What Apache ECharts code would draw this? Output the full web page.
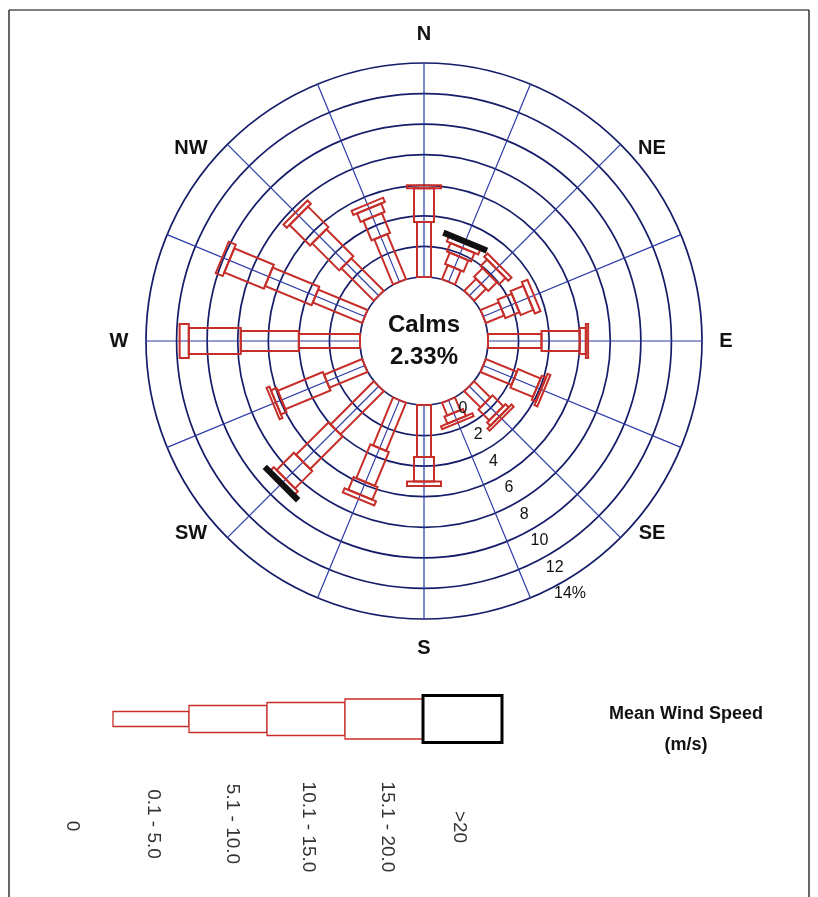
<!DOCTYPE html>
<html>
<head>
<meta charset="utf-8">
<script src="https://cdn.jsdelivr.net/npm/echarts@6/dist/echarts.min.js"></script>
<style>
html,body{margin:0;padding:0;background:#fff;}
#c{width:818px;height:897px;}
</style>
</head>
<body>
<div id="c"></div>
<script>
// 16 wind directions (degrees clockwise from North)
const directions = ['N','NNE','NE','ENE','E','ESE','SE','SSE','S','SSW','SW','WSW','W','WNW','NW','NNW'];
const directionAngles = [0,22.5,45,67.5,90,112.5,135,157.5,180,202.5,225,247.5,270,292.5,315,337.5];
// frequency (%) per wind speed class, per direction
const speed0_1to5 =  [3.6,1.0,1.1,1.3,3.5,2.2,1.5,0.9,3.4,3.4,4.0,2.7,4.0,3.5,3.0,3.2];
const speed5_1to10 = [2.2,0.8,0.8,1.0,2.5,1.6,1.0,0.5,1.6,2.4,3.0,3.2,3.8,3.3,2.5,1.4];
const speed10_1to15 =[0.0,0.6,0.6,0.9,0.4,0.3,0.3,0.0,0.0,0.9,1.6,0.4,3.4,2.8,1.9,0.6];
const speed15_1to20 =[0.2,0.35,0.3,0.4,0.15,0.2,0.2,0.2,0.3,0.3,0.3,0.2,0.6,0.5,0.3,0.3];
const speedOver20 =  [0.0,0.2,0.0,0.0,0.0,0.0,0.0,0.0,0.0,0.0,0.2,0.0,0.0,0.0,0.0,0.0];
const speedClasses = ['0.1 - 5.0','5.1 - 10.0','10.1 - 15.0','15.1 - 20.0','>20'];
const ringTicks = [0,2,4,6,8,10,12,14];
const ringLabels = ['0','2','4','6','8','10','12','14%'];
const calmsText = '2.33%';

const classSeries = [speed0_1to5, speed5_1to10, speed10_1to15, speed15_1to20, speedOver20];
const barWidths = [14, 20, 26, 34, 44];
const RED = '#c62e2a';
const FONT = '"Liberation Sans", Arial, sans-serif';

// build custom data: [r0, r1, angle, classIndex]
const roseData = [];
directions.forEach((d, i) => {
  let cum = 0;
  classSeries.forEach((arr, k) => {
    const v = arr[i];
    if (v > 0) roseData.push([cum, cum + v, directionAngles[i], k]);
    cum += v;
  });
});

const chart = echarts.init(document.getElementById('c'), null, {renderer: 'canvas'});

function renderBar(params, api) {
  const r0 = api.value(0), r1 = api.value(1), ang = api.value(2), k = api.value(3);
  const p0 = api.coord([r0, ang]);
  const p1 = api.coord([r1, ang]);
  const a = ang * Math.PI / 180;
  const ux = Math.sin(a), uy = -Math.cos(a);
  const nx = -uy, ny = ux;
  const hw = barWidths[k] / 2;
  const pts = [
    [p0[0] + nx * hw, p0[1] + ny * hw],
    [p1[0] + nx * hw, p1[1] + ny * hw],
    [p1[0] - nx * hw, p1[1] - ny * hw],
    [p0[0] - nx * hw, p0[1] - ny * hw]
  ];
  const isBlack = k === 4;
  return {
    type: 'polygon',
    shape: {points: pts},
    style: {
      fill: 'rgba(255,255,255,0)',
      stroke: isBlack ? '#111' : RED,
      lineWidth: isBlack ? 3.2 : 2
    }
  };
}

const legendX = [113, 189, 267, 345, 423, 502];
const legendH = [15, 27, 33, 40, 47];
const legendCy = 719;
const legendGraphics = [];
for (let k = 0; k < 5; k++) {
  legendGraphics.push({
    type: 'rect',
    shape: {x: legendX[k], y: legendCy - legendH[k] / 2, width: legendX[k + 1] - legendX[k], height: legendH[k]},
    style: {fill: '#fff', stroke: k === 4 ? '#000' : RED, lineWidth: k === 4 ? 3 : 1.3},
    z: 10
  });
}
const legendLabelX = [72, 153, 232, 308, 387, 459];
const legendLabelTexts = ['0'].concat(speedClasses);
const legendLabelCy = [826, 824, 824, 827, 827, 827];
legendLabelTexts.forEach((t, i) => {
  legendGraphics.push({
    type: 'text',
    x: legendLabelX[i], y: legendLabelCy[i],
    rotation: -Math.PI / 2,
    style: {text: t, font: '19px ' + FONT, fill: '#333', align: 'center', verticalAlign: 'middle'},
    z: 10
  });
});

const dirLabels = [
  ['N', 424, 34], ['NE', 652, 148], ['E', 726, 341], ['SE', 652, 533],
  ['S', 424, 648], ['SW', 191, 533], ['W', 119, 341], ['NW', 191, 148]
];
const dirGraphics = dirLabels.map(d => ({
  type: 'text', x: d[1], y: d[2],
  style: {text: d[0], font: 'bold 20px ' + FONT, fill: '#111', align: 'center', verticalAlign: 'middle'},
  z: 10
}));

chart.setOption({
  backgroundColor: '#fff',
  animation: false,
  polar: {center: [424, 341], radius: [64, 278]},
  angleAxis: {
    type: 'value', min: 0, max: 360, interval: 22.5, startAngle: 90, clockwise: true,
    axisLine: {show: false}, axisTick: {show: false}, axisLabel: {show: false},
    splitLine: {show: true, lineStyle: {color: '#2b3aa8', width: 1.2}}
  },
  radiusAxis: {
    type: 'value', min: 0, max: 14, interval: 2,
    axisLine: {show: false}, axisTick: {show: false}, axisLabel: {show: false},
    splitLine: {show: true, lineStyle: {color: '#151c68', width: 1.7}}
  },
  series: [
    {
      type: 'custom', coordinateSystem: 'polar',
      renderItem: renderBar,
      data: roseData,
      encode: {radius: 1, angle: 2},
      z: 5
    },
    {
      type: 'scatter', coordinateSystem: 'polar',
      symbolSize: 0,
      data: ringTicks.map((t, i) => ({value: [t, 150], name: ringLabels[i]})),
      label: {show: true, position: 'inside', offset: [7, 12], formatter: p => p.name,
        fontFamily: FONT, fontSize: 16, color: '#111', opacity: 1},
      emphasis: {disabled: true},
      z: 6
    }
  ],
  graphic: [
    {type: 'line', shape: {x1: 9, y1: 10, x2: 809, y2: 10}, style: {stroke: '#000', lineWidth: 1.2}},
    {type: 'line', shape: {x1: 9, y1: 10, x2: 9, y2: 897}, style: {stroke: '#000', lineWidth: 1.2}},
    {type: 'line', shape: {x1: 809, y1: 10, x2: 809, y2: 897}, style: {stroke: '#000', lineWidth: 1.2}},
    {type: 'text', x: 424, y: 325, style: {text: 'Calms', font: 'bold 24px ' + FONT, fill: '#111', align: 'center', verticalAlign: 'middle'}, z: 10},
    {type: 'text', x: 424, y: 357, style: {text: calmsText, font: 'bold 24px ' + FONT, fill: '#111', align: 'center', verticalAlign: 'middle'}, z: 10},
    {type: 'text', x: 686, y: 714, style: {text: 'Mean Wind Speed', font: 'bold 18px ' + FONT, fill: '#111', align: 'center', verticalAlign: 'middle'}, z: 10},
    {type: 'text', x: 686, y: 745, style: {text: '(m/s)', font: 'bold 18px ' + FONT, fill: '#111', align: 'center', verticalAlign: 'middle'}, z: 10}
  ].concat(dirGraphics, legendGraphics)
});
</script>
</body>
</html>
